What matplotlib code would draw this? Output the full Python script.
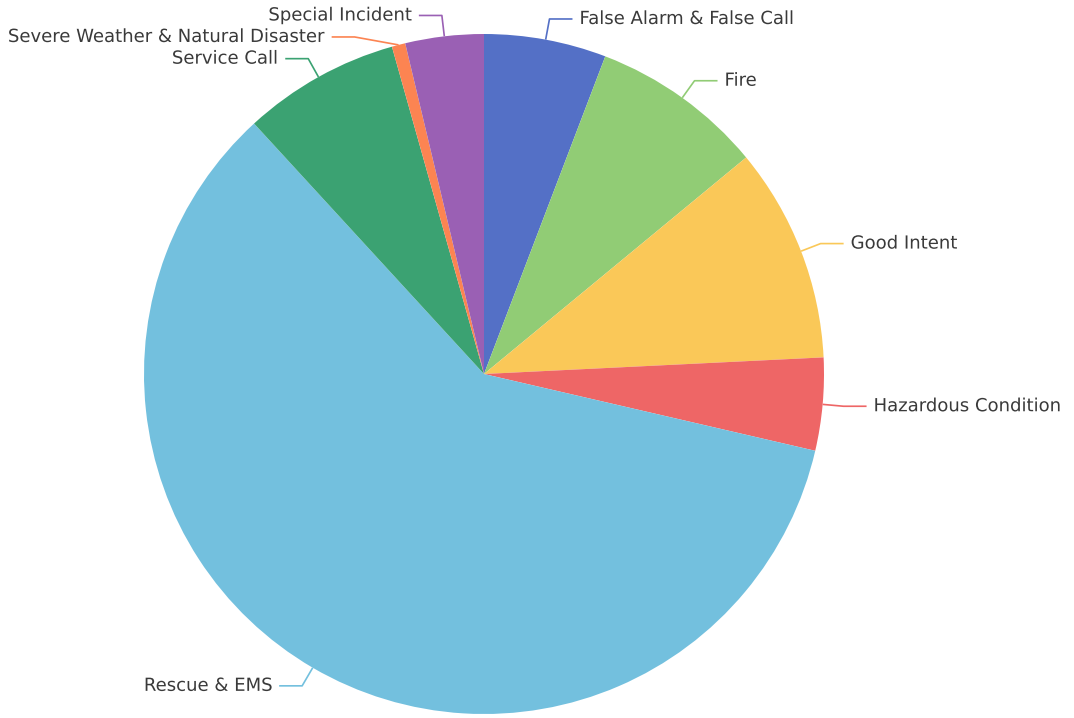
import numpy as np
import matplotlib
matplotlib.use('Agg')
import matplotlib.pyplot as plt
import matplotlib.patheffects as pe

categories = ['False Alarm & False Call', 'Fire', 'Good Intent', 'Hazardous Condition',
              'Rescue & EMS', 'Service Call', 'Severe Weather & Natural Disaster', 'Special Incident']
values = [5.8, 8.2, 10.2, 4.4, 59.5, 7.45, 0.64, 3.72]
colors = ['#5470c6', '#91cc75', '#fac858', '#ee6666', '#73c0de', '#3ba272', '#fc8452', '#9a60b4']

W, H = 1074, 718
fig = plt.figure(figsize=(W / 100, H / 100), dpi=100)
ax = fig.add_axes([0, 0, 1, 1])

cx, cy, r = 484, H - 374, 340
wedges, _ = ax.pie(values, colors=colors, startangle=90, counterclock=False,
                   center=(cx, cy), radius=r, wedgeprops=dict(linewidth=0))
ax.set_xlim(0, W)
ax.set_ylim(0, H)
ax.set_aspect('equal')
ax.axis('off')

len1, len2, gap = 21, 23, 7
R = r + len1
labels = []
for w, name, col in zip(wedges, categories, colors):
    mid = np.deg2rad((w.theta1 + w.theta2) / 2)
    ex, ey = cx + r * np.cos(mid), cy + r * np.sin(mid)
    bx, by = cx + R * np.cos(mid), cy + R * np.sin(mid)
    side = 1 if np.cos(mid) >= 0 else -1
    labels.append(dict(name=name, col=col, ex=ex, ey=ey, bx=bx, by=by, side=side))

# simple overlap avoidance per side (top to bottom)
spacing = 21.5
for side in (1, -1):
    items = sorted([l for l in labels if l['side'] == side], key=lambda l: -l['by'])
    prev = None
    for l in items:
        if prev is not None and prev - l['by'] < spacing:
            l['by'] = prev - spacing
            dy = l['by'] - cy
            l['bx'] = cx + side * np.sqrt(max(R ** 2 - dy ** 2, 0))
        prev = l['by']

for l in labels:
    s = l['side']
    x2 = l['bx'] + s * len2
    ax.plot([l['ex'], l['bx'], x2], [l['ey'], l['by'], l['by']], color=l['col'], lw=1.2,
            solid_capstyle='butt')
    ax.text(x2 + s * gap, l['by'], l['name'], ha='left' if s > 0 else 'right', va='center',
            fontsize=13, family='DejaVu Sans', color='#3a3a3a',
            path_effects=[pe.withStroke(linewidth=3, foreground='white')])

fig.savefig('out.png', dpi=100)
